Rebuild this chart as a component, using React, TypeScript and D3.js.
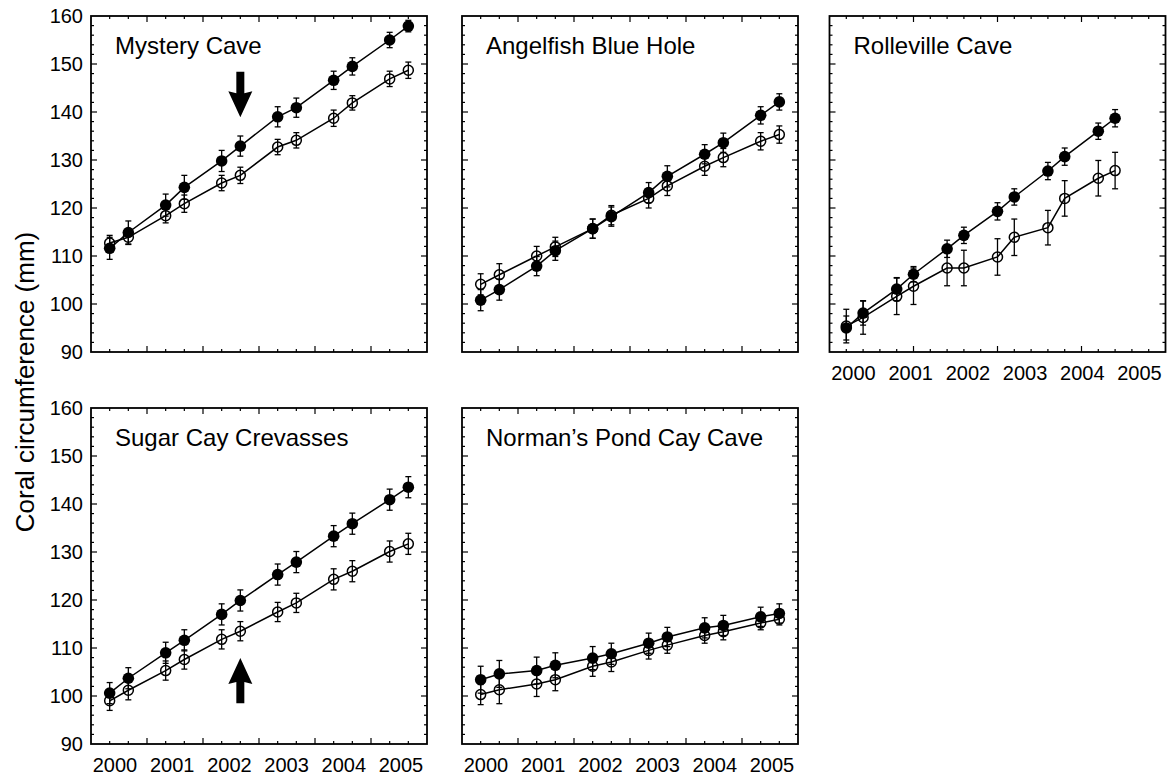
import React from 'react';
import * as d3 from 'd3';

// ---------------- data ----------------
const years = ['2000', '2001', '2002', '2003', '2004', '2005'];
// sampling times, in axis minor-tick units
const sampleIdx = [1, 2, 4, 5, 7, 8, 10, 11, 13, 14, 16, 17];

const mysteryFilled = [111.6, 114.9, 120.6, 124.3, 129.8, 132.9, 139.0, 140.9, 146.6, 149.5, 155.0, 157.9];
const mysteryFilledErr = [2.3, 2.4, 2.3, 2.5, 2.2, 2.1, 2.1, 2.0, 1.9, 1.8, 1.6, 1.2];
const mysteryOpen = [112.7, 113.9, 118.4, 120.9, 125.2, 126.8, 132.7, 134.1, 138.7, 141.9, 146.9, 148.7];
const mysteryOpenErr = [1.6, 1.5, 1.5, 1.8, 1.6, 1.7, 1.6, 1.6, 1.7, 1.5, 1.6, 1.7];

const angelFilled = [100.8, 103.0, 107.9, 111.1, 115.7, 118.2, 123.2, 126.6, 131.2, 133.6, 139.3, 142.1];
const angelFilledErr = [2.2, 2.2, 2.0, 2.0, 2.0, 2.0, 2.1, 2.2, 2.0, 2.0, 1.8, 1.7];
const angelOpen = [104.1, 106.1, 110.0, 111.9, 115.7, 118.5, 122.0, 124.6, 128.7, 130.5, 133.9, 135.3];
const angelOpenErr = [2.2, 2.3, 2.0, 2.0, 2.0, 2.0, 2.0, 2.0, 1.9, 1.9, 1.8, 1.8];

const rolleFilled = [95.0, 98.1, 103.1, 106.2, 111.5, 114.3, 119.3, 122.3, 127.7, 130.7, 136.0, 138.7];
const rolleFilledErr = [2.5, 2.5, 2.4, 1.6, 1.8, 1.7, 1.8, 1.7, 1.8, 1.8, 1.7, 1.8];
const rolleOpen = [95.4, 97.2, 101.6, 103.7, 107.5, 107.5, 109.8, 113.9, 115.9, 122.0, 126.2, 127.8];
const rolleOpenErr = [3.5, 3.5, 3.8, 3.8, 3.7, 3.7, 3.8, 3.8, 3.6, 3.7, 3.7, 3.8];

const sugarFilled = [100.6, 103.7, 109.0, 111.6, 117.0, 119.9, 125.3, 127.9, 133.3, 135.9, 140.9, 143.5];
const sugarFilledErr = [2.2, 2.2, 2.2, 2.2, 2.2, 2.2, 2.2, 2.2, 2.2, 2.2, 2.2, 2.2];
const sugarOpen = [99.0, 101.2, 105.3, 107.6, 111.8, 113.5, 117.5, 119.4, 124.3, 126.0, 130.1, 131.7];
const sugarOpenErr = [2.0, 2.0, 2.0, 2.0, 2.0, 2.0, 2.0, 2.0, 2.2, 2.2, 2.2, 2.2];

const normanFilled = [103.4, 104.6, 105.3, 106.4, 107.9, 108.8, 111.0, 112.3, 114.2, 114.7, 116.5, 117.2];
const normanFilledErr = [2.8, 2.8, 2.8, 2.6, 2.4, 2.2, 2.1, 2.0, 2.1, 2.1, 2.0, 2.0];
const normanOpen = [100.3, 101.3, 102.5, 103.4, 106.2, 107.1, 109.5, 110.6, 112.6, 113.4, 115.2, 116.0];
const normanOpenErr = [2.1, 2.9, 2.6, 2.3, 2.1, 2.0, 1.8, 1.7, 1.6, 1.7, 1.4, 1.2];

const yTicksMajor = [90, 100, 110, 120, 130, 140, 150, 160];

// arrows: sample index, tail value, tip value
const mysteryArrow = { at: 8, from: 148.4, to: 138.9 };
const sugarArrow = { at: 8, from: 98.5, to: 107.9 };

// ---------------- layout ----------------
const PW = 336;
const PH = 336;
const colX = [91, 462, 829.5];
const rowY = [16, 408];
const FONT = '"Liberation Sans", Arial, Helvetica, sans-serif';

type Panel = {
  name: string;
  filled: number[]; filledErr: number[];
  open: number[]; openErr: number[];
  col: number; row: number;
  units: number; majorEvery: number;
  yLabels: boolean; xLabels: boolean;
  arrow?: { at: number; from: number; to: number };
};

const panels: Panel[] = [
  { name: 'Mystery Cave', filled: mysteryFilled, filledErr: mysteryFilledErr, open: mysteryOpen, openErr: mysteryOpenErr, col: 0, row: 0, units: 18, majorEvery: 3, yLabels: true, xLabels: false, arrow: mysteryArrow },
  { name: 'Angelfish Blue Hole', filled: angelFilled, filledErr: angelFilledErr, open: angelOpen, openErr: angelOpenErr, col: 1, row: 0, units: 18, majorEvery: 3, yLabels: false, xLabels: false },
  { name: 'Rolleville Cave', filled: rolleFilled, filledErr: rolleFilledErr, open: rolleOpen, openErr: rolleOpenErr, col: 2, row: 0, units: 20, majorEvery: 5, yLabels: false, xLabels: true },
  { name: 'Sugar Cay Crevasses', filled: sugarFilled, filledErr: sugarFilledErr, open: sugarOpen, openErr: sugarOpenErr, col: 0, row: 1, units: 18, majorEvery: 3, yLabels: true, xLabels: true, arrow: sugarArrow },
  { name: 'Norman\u2019s Pond Cay Cave', filled: normanFilled, filledErr: normanFilledErr, open: normanOpen, openErr: normanOpenErr, col: 1, row: 1, units: 18, majorEvery: 3, yLabels: false, xLabels: true },
];

function PanelView({ p }: { p: Panel }) {
  const x0 = colX[p.col];
  const y0 = rowY[p.row];
  const x = d3.scaleLinear().domain([0, p.units]).range([x0, x0 + PW]);
  const y = d3.scaleLinear().domain([90, 160]).range([y0 + PH, y0]);
  const lab = d3.scalePoint<string>().domain(years).range([x0 + 24, x0 + 310]);
  const line = d3.line<number>().x((_, i) => x(sampleIdx[i])).y((d) => y(d));
  const xMinor = d3.range(1, p.units);
  const yMinor = d3.range(92, 160, 2);

  const ticks: JSX.Element[] = [];
  xMinor.forEach((t) => {
    const len = t % p.majorEvery === 0 ? 6 : 3;
    ticks.push(<line key={'xb' + t} x1={x(t)} x2={x(t)} y1={y0 + PH} y2={y0 + PH - len} />);
    ticks.push(<line key={'xt' + t} x1={x(t)} x2={x(t)} y1={y0} y2={y0 + len} />);
  });
  yMinor.forEach((t) => {
    const len = t % 10 === 0 ? 6 : 3;
    ticks.push(<line key={'yl' + t} x1={x0} x2={x0 + len} y1={y(t)} y2={y(t)} />);
    ticks.push(<line key={'yr' + t} x1={x0 + PW} x2={x0 + PW - len} y1={y(t)} y2={y(t)} />);
  });

  const errBars = (vals: number[], errs: number[], key: string) =>
    vals.map((v, i) => {
      const cx = x(sampleIdx[i]);
      const top = y(v + errs[i]);
      const bot = y(v - errs[i]);
      return (
        <g key={key + i}>
          <line x1={cx} x2={cx} y1={top} y2={bot} />
          <line x1={cx - 3} x2={cx + 3} y1={top} y2={top} />
          <line x1={cx - 3} x2={cx + 3} y1={bot} y2={bot} />
        </g>
      );
    });

  let arrow: JSX.Element | null = null;
  if (p.arrow) {
    const ax = x(p.arrow.at);
    const ty = y(p.arrow.from);
    const hy = y(p.arrow.to);
    const dir = hy > ty ? 1 : -1;
    const headLen = 24;
    const sw = 4;
    const hw = 12;
    const base = hy - dir * headLen;
    const d = `M${ax - sw},${ty} L${ax + sw},${ty} L${ax + sw},${base} L${ax + hw},${base - dir * 2} L${ax},${hy} L${ax - hw},${base - dir * 2} L${ax - sw},${base} Z`;
    arrow = <path d={d} fill="#000" stroke="none" />;
  }

  return (
    <g>
      <g stroke="#000" strokeWidth={1.2}>{ticks}</g>
      <rect x={x0} y={y0} width={PW} height={PH} fill="none" stroke="#000" strokeWidth={1.8} />
      {p.yLabels && yTicksMajor.map((t) => (
        <text key={'yt' + t} x={x0 - 8} y={y(t)} dy="0.36em" textAnchor="end" fontSize={20} fontFamily={FONT} fill="#000">{t}</text>
      ))}
      {p.xLabels && years.map((yr) => (
        <text key={'xl' + yr} x={lab(yr)} y={y0 + PH + 28} textAnchor="middle" fontSize={20} fontFamily={FONT} fill="#000">{yr}</text>
      ))}
      <text x={x0 + 24} y={y0 + 38} fontSize={24} fontFamily={FONT} fill="#000">{p.name}</text>
      <g fill="none" stroke="#000" strokeWidth={1.5}>
        <path d={line(p.open) || ''} />
        <path d={line(p.filled) || ''} />
      </g>
      <g stroke="#000" strokeWidth={1.3}>
        {errBars(p.open, p.openErr, 'eo')}
        {errBars(p.filled, p.filledErr, 'ef')}
      </g>
      <g>
        {p.open.map((v, i) => (
          <circle key={'o' + i} cx={x(sampleIdx[i])} cy={y(v)} r={5.0} fill="none" stroke="#000" strokeWidth={1.5} />
        ))}
        {p.filled.map((v, i) => (
          <circle key={'f' + i} cx={x(sampleIdx[i])} cy={y(v)} r={5.8} fill="#000" />
        ))}
      </g>
      {arrow}
    </g>
  );
}

export default function App() {
  return (
    <svg width={1167} height={776} style={{ position: 'absolute', left: 0, top: 0, background: '#fff' }}>
      <rect x={0} y={0} width={1167} height={776} fill="#fff" />
      {panels.map((p) => <PanelView key={p.name} p={p} />)}
      <text transform="translate(34,382) rotate(-90)" textAnchor="middle" fontSize={26} fontFamily={FONT} fill="#000">Coral circumference (mm)</text>
    </svg>
  );
}
